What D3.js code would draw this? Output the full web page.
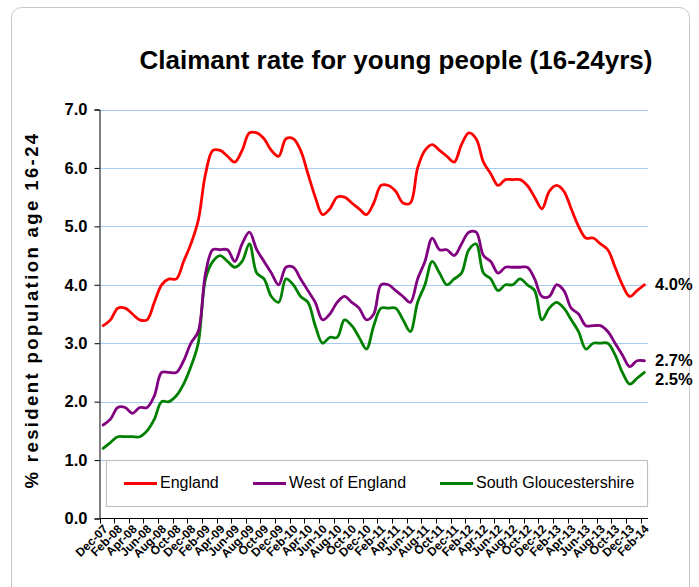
<!DOCTYPE html>
<html>
<head>
<meta charset="utf-8">
<script src="https://cdn.jsdelivr.net/npm/d3@7"></script>
<style>
  html, body { margin: 0; padding: 0; background: #fff; }
  svg { display: block; font-family: "Liberation Sans", Arial, sans-serif; }
</style>
</head>
<body>
<svg id="chart" width="699" height="587"></svg>
<script>
// ---- Data ----
const months = ["Dec-07","Jan-08","Feb-08","Mar-08","Apr-08","May-08","Jun-08","Jul-08","Aug-08","Sep-08","Oct-08","Nov-08",
  "Dec-08","Jan-09","Feb-09","Mar-09","Apr-09","May-09","Jun-09","Jul-09","Aug-09","Sep-09","Oct-09","Nov-09",
  "Dec-09","Jan-10","Feb-10","Mar-10","Apr-10","May-10","Jun-10","Jul-10","Aug-10","Sep-10","Oct-10","Nov-10",
  "Dec-10","Jan-11","Feb-11","Mar-11","Apr-11","May-11","Jun-11","Jul-11","Aug-11","Sep-11","Oct-11","Nov-11",
  "Dec-11","Jan-12","Feb-12","Mar-12","Apr-12","May-12","Jun-12","Jul-12","Aug-12","Sep-12","Oct-12","Nov-12",
  "Dec-12","Jan-13","Feb-13","Mar-13","Apr-13","May-13","Jun-13","Jul-13","Aug-13","Sep-13","Oct-13","Nov-13",
  "Dec-13","Jan-14","Feb-14"];

const england = [3.3,3.4,3.6,3.6,3.5,3.4,3.4,3.7,4.0,4.1,4.1,4.4,
  4.7,5.1,5.9,6.3,6.3,6.2,6.1,6.3,6.6,6.6,6.5,6.3,
  6.2,6.5,6.5,6.3,5.9,5.5,5.2,5.3,5.5,5.5,5.4,5.3,
  5.2,5.4,5.7,5.7,5.6,5.4,5.4,6.0,6.3,6.4,6.3,6.2,
  6.1,6.4,6.6,6.5,6.1,5.9,5.7,5.8,5.8,5.8,5.7,5.5,
  5.3,5.6,5.7,5.6,5.3,5.0,4.8,4.8,4.7,4.6,4.3,4.0,
  3.8,3.9,4.0];

const westOfEngland = [1.6,1.7,1.9,1.9,1.8,1.9,1.9,2.1,2.5,2.5,2.5,2.7,
  3.0,3.2,4.2,4.6,4.6,4.6,4.4,4.7,4.9,4.6,4.4,4.2,
  4.0,4.3,4.3,4.1,3.9,3.7,3.4,3.5,3.7,3.8,3.7,3.6,
  3.4,3.5,4.0,4.0,3.9,3.8,3.7,4.1,4.4,4.8,4.6,4.6,
  4.5,4.7,4.9,4.9,4.5,4.4,4.2,4.3,4.3,4.3,4.3,4.1,
  3.8,3.8,4.0,3.9,3.6,3.5,3.3,3.3,3.3,3.2,3.0,2.8,
  2.6,2.7,2.7];

const southGlos = [1.2,1.3,1.4,1.4,1.4,1.4,1.5,1.7,2.0,2.0,2.1,2.3,
  2.6,3.0,4.1,4.4,4.5,4.4,4.3,4.4,4.7,4.2,4.1,3.8,
  3.7,4.1,4.0,3.8,3.7,3.3,3.0,3.1,3.1,3.4,3.3,3.1,
  2.9,3.3,3.6,3.6,3.6,3.4,3.2,3.7,4.0,4.4,4.2,4.0,
  4.1,4.2,4.6,4.7,4.2,4.1,3.9,4.0,4.0,4.1,4.0,3.9,
  3.4,3.6,3.7,3.6,3.4,3.2,2.9,3.0,3.0,3.0,2.8,2.5,
  2.3,2.4,2.5];

const seriesNames = ["England", "West of England", "South Gloucestershire"];
const seriesColors = ["#FF0000", "#800080", "#008000"];
const yTicks = [0,1,2,3,4,5,6,7];
const endLabels = ["4.0%", "2.7%", "2.5%"];

const title = "Claimant rate for young people (16-24yrs)";
const yTitle = "% resident population age 16-24";

// ---- Layout ----
const svg = d3.select("#chart");
const L = 99.5, R = 648, T = 109.5, B = 518.5;

// outer frame
svg.append("rect").attr("x", 11.5).attr("y", 7.5).attr("width", 678).attr("height", 610)
  .attr("rx", 10).attr("fill", "#fff").attr("stroke", "#c8c8c8").attr("stroke-width", 1);

const x = d3.scaleBand().domain(d3.range(months.length)).range([L, R]).padding(0);
const bw = x.bandwidth();
const cx = i => x(i) + bw / 2;
const y = d3.scaleLinear().domain([0, 7]).range([B, T]);

// gridlines
svg.append("g").selectAll("line").data(yTicks.filter(d => d > 0)).join("line")
  .attr("x1", L).attr("x2", R)
  .attr("y1", d => Math.round(y(d)) + 0.5).attr("y2", d => Math.round(y(d)) + 0.5)
  .attr("stroke", "#A6CAF0").attr("stroke-width", 1);

// Y axis
const yAxis = d3.axisLeft(y).tickValues(yTicks).tickFormat(d3.format(".1f")).tickSize(5).tickPadding(7);
const gy = svg.append("g").attr("transform", `translate(${L},0)`).call(yAxis);
gy.select(".domain").attr("stroke", "#000");
gy.selectAll(".tick line").attr("stroke", "#000");
gy.selectAll(".tick text").attr("font-size", 16.5).attr("font-weight", "bold")
  .attr("font-family", "Liberation Sans, Arial, sans-serif").attr("fill", "#000");

// X axis
const tickIdx = d3.range(0, months.length, 2);
const gx = svg.append("g");
gx.append("line").attr("x1", L).attr("x2", R).attr("y1", B).attr("y2", B).attr("stroke", "#000");
gx.selectAll("line.tk").data(tickIdx).join("line").attr("class", "tk")
  .attr("x1", d => Math.round(x(d)) + 0.5).attr("x2", d => Math.round(x(d)) + 0.5)
  .attr("y1", B).attr("y2", B + 5).attr("stroke", "#000");
gx.selectAll("text").data(tickIdx).join("text")
  .attr("transform", d => `translate(${cx(d) + 3},${B + 9}) rotate(-45)`)
  .attr("text-anchor", "end").attr("dominant-baseline", "middle")
  .attr("font-size", 12).attr("font-weight", "bold").attr("fill", "#000")
  .text(d => months[d]);

// Lines
const line = d3.line().x((d, i) => cx(i)).y(d => y(d)).curve(d3.curveCatmullRom.alpha(0.5));
const allSeries = [england, westOfEngland, southGlos];
[2, 1, 0].forEach(k => {
  svg.append("path").datum(allSeries[k]).attr("d", line)
    .attr("fill", "none").attr("stroke", seriesColors[k]).attr("stroke-width", 2.8)
    .attr("stroke-linejoin", "round").attr("stroke-linecap", "round");
});

// End labels
const endOffsets = [1, 1, 8];
allSeries.forEach((s, k) => {
  svg.append("text").attr("x", 655).attr("y", y(s[s.length - 1]) + endOffsets[k])
    .attr("dominant-baseline", "middle").attr("font-size", 16.5).attr("font-weight", "bold")
    .attr("fill", "#000").text(endLabels[k]);
});

// Legend
const lg = svg.append("g");
lg.append("rect").attr("x", 106.5).attr("y", 460.5).attr("width", 541).attr("height", 46)
  .attr("fill", "#fff").attr("stroke", "#c0c0c0").attr("stroke-width", 1.2);
const legendX = [124, 253, 440];
seriesNames.forEach((n, k) => {
  lg.append("line").attr("x1", legendX[k]).attr("x2", legendX[k] + 33).attr("y1", 483.5).attr("y2", 483.5)
    .attr("stroke", seriesColors[k]).attr("stroke-width", 3);
  lg.append("text").attr("x", legendX[k] + 36).attr("y", 484).attr("dominant-baseline", "middle")
    .attr("font-size", 16).attr("fill", "#000").text(n);
});

// Title
svg.append("text").attr("x", 396).attr("y", 69).attr("text-anchor", "middle")
  .attr("font-size", 26).attr("font-weight", "bold").attr("fill", "#000").text(title);

// Y title
svg.append("text").attr("transform", `translate(38,${310}) rotate(-90)`)
  .attr("text-anchor", "middle").attr("font-size", 18.5).attr("font-weight", "bold")
  .attr("letter-spacing", 2.4)
  .attr("fill", "#000").text(yTitle);
</script>
</body>
</html>
